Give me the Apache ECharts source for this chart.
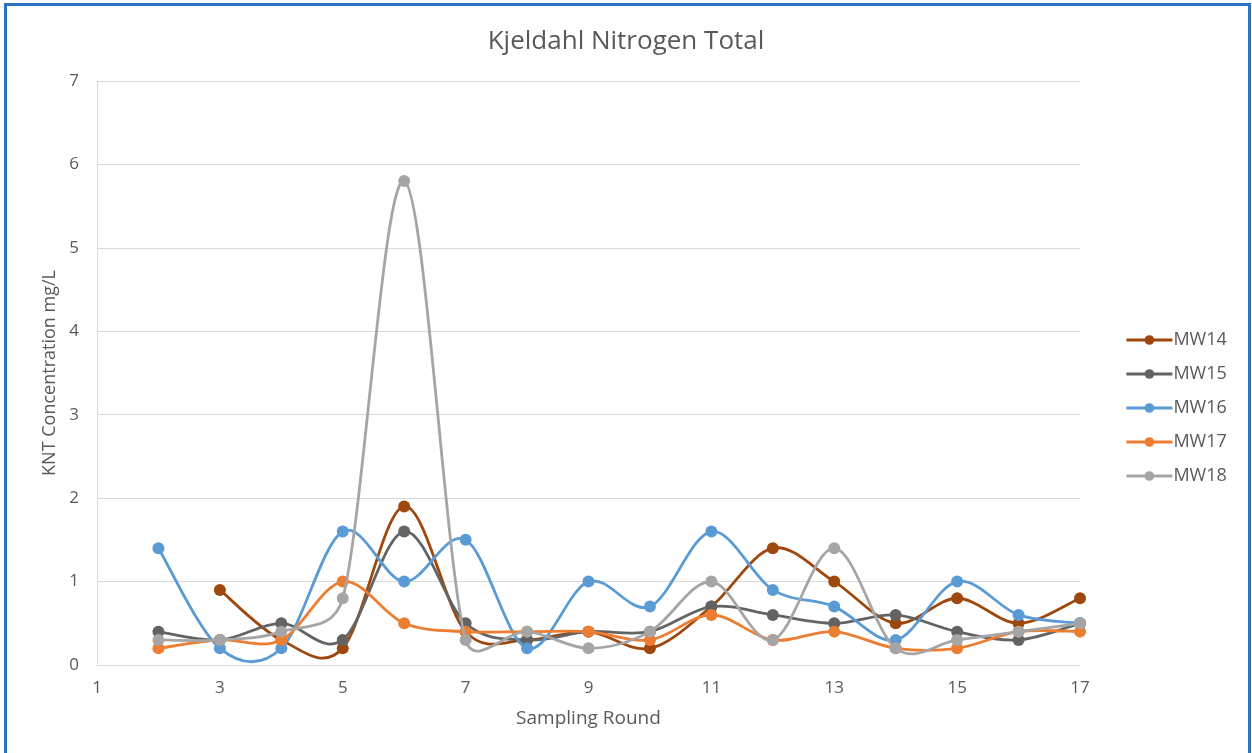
<!DOCTYPE html>
<html>
<head>
<meta charset="utf-8">
<title>Kjeldahl Nitrogen Total</title>
<script src="https://cdn.jsdelivr.net/npm/echarts@6/dist/echarts.min.js"></script>
<style>
  html, body { margin: 0; padding: 0; background: #ffffff; }
  #frame {
    position: absolute; left: 4px; top: 3px; width: 1241px; height: 760px;
    border-left: 3px solid #2b72c0; border-top: 3px solid #2b72c0; border-right: 3px solid #2b72c0;
    box-sizing: content-box;
  }
  #chart { position: absolute; left: 0; top: 0; width: 1252px; height: 753px; }
</style>
</head>
<body>
<div id="frame"></div>
<div id="chart"></div>
<script>
// Sampling rounds and KNT concentrations (mg/L) per monitoring well
const rounds = [2, 3, 4, 5, 6, 7, 8, 9, 10, 11, 12, 13, 14, 15, 16, 17];
const mw14 = [null, 0.9, 0.3, 0.2, 1.9, 0.4, 0.3, 0.4, 0.2, 0.7, 1.4, 1.0, 0.5, 0.8, 0.5, 0.8];
const mw15 = [0.4, 0.3, 0.5, 0.3, 1.6, 0.5, 0.3, 0.4, 0.4, 0.7, 0.6, 0.5, 0.6, 0.4, 0.3, 0.5];
const mw16 = [1.4, 0.2, 0.2, 1.6, 1.0, 1.5, 0.2, 1.0, 0.7, 1.6, 0.9, 0.7, 0.3, 1.0, 0.6, 0.5];
const mw17 = [0.2, 0.3, 0.3, 1.0, 0.5, 0.4, 0.4, 0.4, 0.3, 0.6, 0.3, 0.4, 0.2, 0.2, 0.4, 0.4];
const mw18 = [0.3, 0.3, 0.4, 0.8, 5.8, 0.3, 0.4, 0.2, 0.4, 1.0, 0.3, 1.4, 0.2, 0.3, 0.4, 0.5];

const seriesNames = ['MW14', 'MW15', 'MW16', 'MW17', 'MW18'];
const seriesValues = [mw14, mw15, mw16, mw17, mw18];
const seriesColors = ['#9e480e', '#636363', '#5b9bd5', '#ed7d31', '#a5a5a5'];

const FONT = '"Open Sans", "Liberation Sans", sans-serif';
const TEXT = '#595959';
const LINE_W = 2.8;

function pairs(values) {
  const out = [];
  values.forEach((v, i) => { if (v !== null) out.push([rounds[i], v]); });
  return out;
}

function dist(a, b) { return Math.hypot(b[0] - a[0], b[1] - a[1]); }

// Smoothed segments between consecutive points (cardinal spline, tension 1/6,
// with the handle length capped at half the segment), positioned through the
// chart's own coordinate system.
function curveSeries(pts, color, z) {
  return {
    type: 'custom',
    data: pts,
    encode: { x: 0, y: 1 },
    z: z,
    silent: true,
    clip: false,
    renderItem: function (params, api) {
      const i = params.dataIndex;
      if (i >= pts.length - 1) return null;
      const c = k => api.coord(pts[Math.max(0, Math.min(pts.length - 1, k))]);
      const p0 = c(i - 1), p1 = c(i), p2 = c(i + 1), p3 = c(i + 2);
      const d12 = dist(p1, p2), d02 = dist(p0, p2), d13 = dist(p1, p3);
      let f1 = 1 / 6, f2 = 1 / 6;
      if (d02 > 0 && d02 / 6 > d12 / 2) f1 = d12 / (2 * d02);
      if (d13 > 0 && d13 / 6 > d12 / 2) f2 = d12 / (2 * d13);
      return {
        type: 'bezierCurve',
        shape: {
          x1: p1[0], y1: p1[1],
          x2: p2[0], y2: p2[1],
          cpx1: p1[0] + (p2[0] - p0[0]) * f1, cpy1: p1[1] + (p2[1] - p0[1]) * f1,
          cpx2: p2[0] - (p3[0] - p1[0]) * f2, cpy2: p2[1] - (p3[1] - p1[1]) * f2
        },
        style: { stroke: color, lineWidth: LINE_W, fill: null, lineCap: 'round' }
      };
    }
  };
}

const series = [];
seriesNames.forEach((name, i) => {
  const pts = pairs(seriesValues[i]);
  series.push(curveSeries(pts, seriesColors[i], 2 + i * 2));
  series.push({
    name: name,
    type: 'line',
    data: pts,
    z: 3 + i * 2,
    symbol: 'circle',
    symbolSize: 12,
    showAllSymbol: true,
    itemStyle: { color: seriesColors[i] },
    lineStyle: { color: seriesColors[i], width: LINE_W, opacity: 0 },
    emphasis: { disabled: true }
  });
});

const chart = echarts.init(document.getElementById('chart'), null, { renderer: 'canvas' });

chart.setOption({
  backgroundColor: 'transparent',
  animation: false,
  title: {
    text: 'Kjeldahl Nitrogen Total',
    left: 'center',
    top: 24,
    textStyle: { fontFamily: FONT, fontSize: 26, fontWeight: 'normal', color: TEXT }
  },
  legend: {
    orient: 'vertical',
    left: 1120,
    top: 326,
    itemWidth: 46,
    itemHeight: 12,
    itemGap: 16,
    data: seriesNames.map((name, i) => ({
      name: name,
      lineStyle: { color: seriesColors[i], width: LINE_W, opacity: 1 }
    })),
    textStyle: { fontFamily: FONT, fontSize: 18, color: TEXT, padding: [0, 0, 0, -4] }
  },
  grid: { left: 97, right: 172, top: 81, bottom: 88, containLabel: false },
  xAxis: {
    type: 'value',
    min: 1, max: 17, interval: 2,
    name: 'Sampling Round',
    nameLocation: 'middle',
    nameGap: 44,
    nameTextStyle: { fontFamily: FONT, fontSize: 19, color: TEXT },
    axisLine: { show: true, lineStyle: { color: '#d9d9d9', width: 1 } },
    axisTick: { show: false },
    axisLabel: { fontFamily: FONT, fontSize: 17, color: TEXT, margin: 15 },
    splitLine: { show: false }
  },
  yAxis: {
    type: 'value',
    min: 0, max: 7, interval: 1,
    name: 'KNT Concentration mg/L',
    nameLocation: 'middle',
    nameGap: 38,
    nameTextStyle: { fontFamily: FONT, fontSize: 18, color: TEXT },
    axisLine: { show: true, lineStyle: { color: '#d9d9d9', width: 1 } },
    axisTick: { show: false },
    axisLabel: { fontFamily: FONT, fontSize: 17, color: TEXT, margin: 18 },
    splitLine: { show: true, lineStyle: { color: '#d9d9d9', width: 1 } }
  },
  series: series
});
</script>
</body>
</html>
